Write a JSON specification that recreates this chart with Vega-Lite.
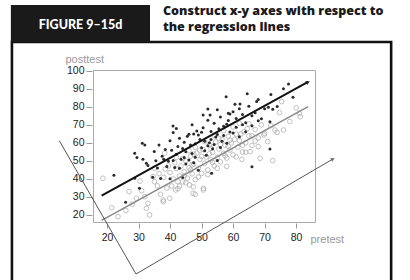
{
  "$schema": "https://vega.github.io/schema/vega-lite/v6.json",
  "width": 222,
  "height": 152,
  "autosize": "none",
  "padding": {"left": 93, "top": 70, "right": 95, "bottom": 58},
  "background": "white",
  "title": {
    "text": ["Construct x-y axes with respect to", "the regression lines"],
    "anchor": "start",
    "frame": "group",
    "dx": 70,
    "dy": 33,
    "font": "Open Sans",
    "fontSize": 12.5,
    "fontWeight": 800,
    "color": "#1a1a1a",
    "lineHeight": 16
  },
  "config": {
    "view": {"stroke": "#aaaaaa", "strokeWidth": 1},
    "axis": {
      "grid": false,
      "domain": false,
      "labelOverlap": false,
      "tickColor": "#999999",
      "labelFont": "Liberation Sans",
      "labelFontSize": 10.5,
      "labelColor": "#222222",
      "titleFont": "Liberation Sans",
      "titleFontSize": 11,
      "titleFontWeight": "normal",
      "titleColor": "#999999"
    }
  },
  "datasets": {
    "points": [
      {"group": "dark", "pretest": 22.2, "posttest": 42.1},
      {"group": "dark", "pretest": 25.9, "posttest": 27.1},
      {"group": "dark", "pretest": 28.8, "posttest": 40.4},
      {"group": "dark", "pretest": 28.8, "posttest": 54.3},
      {"group": "dark", "pretest": 29.5, "posttest": 52.0},
      {"group": "dark", "pretest": 30.3, "posttest": 34.8},
      {"group": "dark", "pretest": 31.2, "posttest": 59.8},
      {"group": "dark", "pretest": 32.0, "posttest": 58.9},
      {"group": "dark", "pretest": 31.4, "posttest": 50.9},
      {"group": "dark", "pretest": 32.5, "posttest": 48.7},
      {"group": "dark", "pretest": 40.95, "posttest": 69.4},
      {"group": "dark", "pretest": 52.7, "posttest": 75.6},
      {"group": "dark", "pretest": 52.0, "posttest": 78.9},
      {"group": "dark", "pretest": 57.8, "posttest": 85.7},
      {"group": "dark", "pretest": 60.6, "posttest": 81.5},
      {"group": "dark", "pretest": 62.2, "posttest": 81.7},
      {"group": "dark", "pretest": 58.5, "posttest": 76.5},
      {"group": "dark", "pretest": 71.2, "posttest": 79.8},
      {"group": "dark", "pretest": 72.6, "posttest": 78.7},
      {"group": "dark", "pretest": 71.7, "posttest": 71.8},
      {"group": "dark", "pretest": 77.6, "posttest": 92.8},
      {"group": "dark", "pretest": 53.2, "posttest": 43.2},
      {"group": "dark", "pretest": 66.0, "posttest": 46.8},
      {"group": "dark", "pretest": 71.7, "posttest": 56.7},
      {"group": "dark", "pretest": 33, "posttest": 47.5},
      {"group": "dark", "pretest": 34.5, "posttest": 41.0},
      {"group": "dark", "pretest": 35, "posttest": 55.3},
      {"group": "dark", "pretest": 36, "posttest": 46.1},
      {"group": "dark", "pretest": 36.5, "posttest": 58.9},
      {"group": "dark", "pretest": 37, "posttest": 40.2},
      {"group": "dark", "pretest": 38, "posttest": 50.9},
      {"group": "dark", "pretest": 38.5, "posttest": 56.4},
      {"group": "dark", "pretest": 39, "posttest": 47.0},
      {"group": "dark", "pretest": 40, "posttest": 40.1},
      {"group": "dark", "pretest": 40.5, "posttest": 55.9},
      {"group": "dark", "pretest": 41, "posttest": 65.8},
      {"group": "dark", "pretest": 41.5, "posttest": 46.4},
      {"group": "dark", "pretest": 42, "posttest": 53.8},
      {"group": "dark", "pretest": 43, "posttest": 62.7},
      {"group": "dark", "pretest": 43.5, "posttest": 51.0},
      {"group": "dark", "pretest": 44, "posttest": 40.8},
      {"group": "dark", "pretest": 44.5, "posttest": 60.4},
      {"group": "dark", "pretest": 45, "posttest": 55.1},
      {"group": "dark", "pretest": 45.5, "posttest": 63.8},
      {"group": "dark", "pretest": 46, "posttest": 50.6},
      {"group": "dark", "pretest": 46.5, "posttest": 58.9},
      {"group": "dark", "pretest": 47, "posttest": 70.1},
      {"group": "dark", "pretest": 47.5, "posttest": 49.0},
      {"group": "dark", "pretest": 48, "posttest": 59.6},
      {"group": "dark", "pretest": 48.5, "posttest": 66.7},
      {"group": "dark", "pretest": 49, "posttest": 44.9},
      {"group": "dark", "pretest": 49.5, "posttest": 62.0},
      {"group": "dark", "pretest": 50, "posttest": 57.4},
      {"group": "dark", "pretest": 50.5, "posttest": 68.5},
      {"group": "dark", "pretest": 51, "posttest": 61.0},
      {"group": "dark", "pretest": 51.5, "posttest": 53.2},
      {"group": "dark", "pretest": 52, "posttest": 72.6},
      {"group": "dark", "pretest": 52.5, "posttest": 60.1},
      {"group": "dark", "pretest": 53, "posttest": 66.4},
      {"group": "dark", "pretest": 53.5, "posttest": 56.8},
      {"group": "dark", "pretest": 54, "posttest": 70.9},
      {"group": "dark", "pretest": 54.5, "posttest": 63.3},
      {"group": "dark", "pretest": 55, "posttest": 50.2},
      {"group": "dark", "pretest": 55.5, "posttest": 67.9},
      {"group": "dark", "pretest": 56, "posttest": 74.5},
      {"group": "dark", "pretest": 56.5, "posttest": 61.0},
      {"group": "dark", "pretest": 57, "posttest": 69.3},
      {"group": "dark", "pretest": 58, "posttest": 59.8},
      {"group": "dark", "pretest": 58.5, "posttest": 72.5},
      {"group": "dark", "pretest": 59, "posttest": 66.1},
      {"group": "dark", "pretest": 60, "posttest": 77.3},
      {"group": "dark", "pretest": 61, "posttest": 68.7},
      {"group": "dark", "pretest": 62, "posttest": 63.4},
      {"group": "dark", "pretest": 63, "posttest": 75.8},
      {"group": "dark", "pretest": 64, "posttest": 71.2},
      {"group": "dark", "pretest": 65, "posttest": 80.4},
      {"group": "dark", "pretest": 66, "posttest": 69.6},
      {"group": "dark", "pretest": 67, "posttest": 76.8},
      {"group": "dark", "pretest": 68, "posttest": 84.1},
      {"group": "dark", "pretest": 69, "posttest": 73.5},
      {"group": "dark", "pretest": 70, "posttest": 79.0},
      {"group": "dark", "pretest": 72, "posttest": 86.9},
      {"group": "dark", "pretest": 74, "posttest": 80.3},
      {"group": "dark", "pretest": 76, "posttest": 90.2},
      {"group": "dark", "pretest": 79, "posttest": 85.4},
      {"group": "dark", "pretest": 37.5, "posttest": 52.6},
      {"group": "dark", "pretest": 39.5, "posttest": 49.8},
      {"group": "dark", "pretest": 40, "posttest": 61.2},
      {"group": "dark", "pretest": 41, "posttest": 50.3},
      {"group": "dark", "pretest": 42.5, "posttest": 58.1},
      {"group": "dark", "pretest": 43, "posttest": 45.9},
      {"group": "dark", "pretest": 44, "posttest": 57.0},
      {"group": "dark", "pretest": 45, "posttest": 48.3},
      {"group": "dark", "pretest": 46, "posttest": 64.9},
      {"group": "dark", "pretest": 47, "posttest": 54.2},
      {"group": "dark", "pretest": 48, "posttest": 52.1},
      {"group": "dark", "pretest": 49, "posttest": 64.4},
      {"group": "dark", "pretest": 50, "posttest": 66.0},
      {"group": "dark", "pretest": 51, "posttest": 55.7},
      {"group": "dark", "pretest": 52, "posttest": 58.5},
      {"group": "dark", "pretest": 53, "posttest": 62.0},
      {"group": "dark", "pretest": 54, "posttest": 59.1},
      {"group": "dark", "pretest": 55, "posttest": 64.7},
      {"group": "dark", "pretest": 56, "posttest": 57.5},
      {"group": "dark", "pretest": 57, "posttest": 64.2},
      {"group": "dark", "pretest": 58, "posttest": 70.4},
      {"group": "dark", "pretest": 59, "posttest": 76.1},
      {"group": "dark", "pretest": 60, "posttest": 65.5},
      {"group": "dark", "pretest": 61, "posttest": 73.6},
      {"group": "dark", "pretest": 62, "posttest": 79.0},
      {"group": "dark", "pretest": 63, "posttest": 70.2},
      {"group": "dark", "pretest": 64, "posttest": 66.3},
      {"group": "dark", "pretest": 66, "posttest": 75.1},
      {"group": "dark", "pretest": 68, "posttest": 72.4},
      {"group": "dark", "pretest": 35.5, "posttest": 50.1},
      {"group": "dark", "pretest": 42, "posttest": 68.0},
      {"group": "dark", "pretest": 50.5, "posttest": 75.5},
      {"group": "dark", "pretest": 55, "posttest": 78.5},
      {"group": "dark", "pretest": 47.5, "posttest": 65.0},
      {"group": "dark", "pretest": 44.5, "posttest": 51.9},
      {"group": "dark", "pretest": 64.5, "posttest": 87.3},
      {"group": "dark", "pretest": 67.5, "posttest": 83.0},
      {"group": "gray", "pretest": 18.7, "posttest": 40.4},
      {"group": "gray", "pretest": 23.5, "posttest": 19.1},
      {"group": "gray", "pretest": 29.3, "posttest": 29.3},
      {"group": "gray", "pretest": 32.0, "posttest": 30.2},
      {"group": "gray", "pretest": 33.0, "posttest": 26.5},
      {"group": "gray", "pretest": 32.5, "posttest": 23.7},
      {"group": "gray", "pretest": 33.5, "posttest": 20.0},
      {"group": "gray", "pretest": 37.8, "posttest": 28.3},
      {"group": "gray", "pretest": 39.9, "posttest": 29.3},
      {"group": "gray", "pretest": 47.3, "posttest": 32.0},
      {"group": "gray", "pretest": 48.0, "posttest": 31.5},
      {"group": "gray", "pretest": 41.8, "posttest": 33.9},
      {"group": "gray", "pretest": 42.5, "posttest": 38.5},
      {"group": "gray", "pretest": 46.2, "posttest": 36.7},
      {"group": "gray", "pretest": 38.3, "posttest": 54.3},
      {"group": "gray", "pretest": 35.1, "posttest": 38.5},
      {"group": "gray", "pretest": 34.6, "posttest": 41.3},
      {"group": "gray", "pretest": 75.4, "posttest": 83.0},
      {"group": "gray", "pretest": 74.7, "posttest": 76.9},
      {"group": "gray", "pretest": 81.3, "posttest": 74.6},
      {"group": "gray", "pretest": 81.0, "posttest": 76.5},
      {"group": "gray", "pretest": 76.0, "posttest": 67.2},
      {"group": "gray", "pretest": 73.3, "posttest": 67.2},
      {"group": "gray", "pretest": 69.8, "posttest": 64.4},
      {"group": "gray", "pretest": 68.0, "posttest": 58.0},
      {"group": "gray", "pretest": 68.6, "posttest": 51.5},
      {"group": "gray", "pretest": 72.6, "posttest": 50.2},
      {"group": "gray", "pretest": 62.8, "posttest": 50.9},
      {"group": "gray", "pretest": 65.4, "posttest": 55.2},
      {"group": "gray", "pretest": 50.6, "posttest": 34.8},
      {"group": "gray", "pretest": 47.4, "posttest": 35.7},
      {"group": "gray", "pretest": 50.6, "posttest": 33.9},
      {"group": "gray", "pretest": 37.9, "posttest": 27.4},
      {"group": "gray", "pretest": 36, "posttest": 36.2},
      {"group": "gray", "pretest": 37, "posttest": 31.5},
      {"group": "gray", "pretest": 38, "posttest": 40.9},
      {"group": "gray", "pretest": 39, "posttest": 35.0},
      {"group": "gray", "pretest": 40, "posttest": 43.6},
      {"group": "gray", "pretest": 40.5, "posttest": 36.1},
      {"group": "gray", "pretest": 41, "posttest": 40.0},
      {"group": "gray", "pretest": 42, "posttest": 45.8},
      {"group": "gray", "pretest": 42.5, "posttest": 34.6},
      {"group": "gray", "pretest": 43, "posttest": 41.7},
      {"group": "gray", "pretest": 43.5, "posttest": 47.3},
      {"group": "gray", "pretest": 44, "posttest": 38.4},
      {"group": "gray", "pretest": 44.5, "posttest": 44.0},
      {"group": "gray", "pretest": 45, "posttest": 50.1},
      {"group": "gray", "pretest": 45.5, "posttest": 40.5},
      {"group": "gray", "pretest": 46, "posttest": 46.2},
      {"group": "gray", "pretest": 46.5, "posttest": 52.7},
      {"group": "gray", "pretest": 47, "posttest": 42.9},
      {"group": "gray", "pretest": 47.5, "posttest": 48.3},
      {"group": "gray", "pretest": 48, "posttest": 39.7},
      {"group": "gray", "pretest": 48.5, "posttest": 54.4},
      {"group": "gray", "pretest": 49, "posttest": 46.0},
      {"group": "gray", "pretest": 49.5, "posttest": 50.9},
      {"group": "gray", "pretest": 50, "posttest": 43.1},
      {"group": "gray", "pretest": 50.5, "posttest": 56.3},
      {"group": "gray", "pretest": 51, "posttest": 48.7},
      {"group": "gray", "pretest": 51.5, "posttest": 52.2},
      {"group": "gray", "pretest": 52, "posttest": 45.0},
      {"group": "gray", "pretest": 52.5, "posttest": 58.9},
      {"group": "gray", "pretest": 53, "posttest": 50.6},
      {"group": "gray", "pretest": 53.5, "posttest": 54.8},
      {"group": "gray", "pretest": 54, "posttest": 47.3},
      {"group": "gray", "pretest": 54.5, "posttest": 60.5},
      {"group": "gray", "pretest": 55, "posttest": 52.0},
      {"group": "gray", "pretest": 55.5, "posttest": 56.7},
      {"group": "gray", "pretest": 56, "posttest": 49.5},
      {"group": "gray", "pretest": 56.5, "posttest": 62.0},
      {"group": "gray", "pretest": 57, "posttest": 54.2},
      {"group": "gray", "pretest": 57.5, "posttest": 58.8},
      {"group": "gray", "pretest": 58, "posttest": 51.6},
      {"group": "gray", "pretest": 58.5, "posttest": 63.7},
      {"group": "gray", "pretest": 59, "posttest": 56.1},
      {"group": "gray", "pretest": 59.5, "posttest": 60.0},
      {"group": "gray", "pretest": 60, "posttest": 53.4},
      {"group": "gray", "pretest": 61, "posttest": 64.9},
      {"group": "gray", "pretest": 61.5, "posttest": 57.7},
      {"group": "gray", "pretest": 62, "posttest": 61.3},
      {"group": "gray", "pretest": 63, "posttest": 55.0},
      {"group": "gray", "pretest": 63.5, "posttest": 66.2},
      {"group": "gray", "pretest": 64, "posttest": 60.2},
      {"group": "gray", "pretest": 65, "posttest": 63.9},
      {"group": "gray", "pretest": 66, "posttest": 58.6},
      {"group": "gray", "pretest": 67, "posttest": 67.5},
      {"group": "gray", "pretest": 68, "posttest": 62.8},
      {"group": "gray", "pretest": 69, "posttest": 70.1},
      {"group": "gray", "pretest": 70, "posttest": 65.3},
      {"group": "gray", "pretest": 71, "posttest": 60.8},
      {"group": "gray", "pretest": 72, "posttest": 69.7},
      {"group": "gray", "pretest": 74, "posttest": 65.9},
      {"group": "gray", "pretest": 78, "posttest": 72.0},
      {"group": "gray", "pretest": 80, "posttest": 79.5},
      {"group": "gray", "pretest": 38.5, "posttest": 45.5},
      {"group": "gray", "pretest": 41.5, "posttest": 49.0},
      {"group": "gray", "pretest": 43, "posttest": 36.0},
      {"group": "gray", "pretest": 44, "posttest": 51.3},
      {"group": "gray", "pretest": 45, "posttest": 37.9},
      {"group": "gray", "pretest": 46, "posttest": 55.8},
      {"group": "gray", "pretest": 47, "posttest": 47.8},
      {"group": "gray", "pretest": 48, "posttest": 57.6},
      {"group": "gray", "pretest": 49, "posttest": 41.1},
      {"group": "gray", "pretest": 50, "posttest": 52.5},
      {"group": "gray", "pretest": 51, "posttest": 60.7},
      {"group": "gray", "pretest": 52, "posttest": 42.5},
      {"group": "gray", "pretest": 53, "posttest": 57.0},
      {"group": "gray", "pretest": 54, "posttest": 64.2},
      {"group": "gray", "pretest": 55, "posttest": 45.9},
      {"group": "gray", "pretest": 56, "posttest": 59.2},
      {"group": "gray", "pretest": 57, "posttest": 66.8},
      {"group": "gray", "pretest": 58, "posttest": 47.0},
      {"group": "gray", "pretest": 59, "posttest": 61.5},
      {"group": "gray", "pretest": 60, "posttest": 68.9},
      {"group": "gray", "pretest": 61, "posttest": 52.3},
      {"group": "gray", "pretest": 62, "posttest": 71.0},
      {"group": "gray", "pretest": 63, "posttest": 58.8},
      {"group": "gray", "pretest": 64, "posttest": 54.9},
      {"group": "gray", "pretest": 65, "posttest": 70.6},
      {"group": "gray", "pretest": 66, "posttest": 64.0},
      {"group": "gray", "pretest": 67, "posttest": 61.1},
      {"group": "gray", "pretest": 36.5, "posttest": 43.0},
      {"group": "gray", "pretest": 39.5, "posttest": 47.2},
      {"group": "gray", "pretest": 42, "posttest": 52.0},
      {"group": "gray", "pretest": 55.5, "posttest": 62.5},
      {"group": "gray", "pretest": 57.5, "posttest": 52.9},
      {"group": "gray", "pretest": 60.5, "posttest": 62.0},
      {"group": "gray", "pretest": 49.5, "posttest": 56.0},
      {"group": "gray", "pretest": 53.5, "posttest": 49.2},
      {"group": "gray", "pretest": 46.5, "posttest": 45.0},
      {"group": "gray", "pretest": 44.5, "posttest": 41.6},
      {"group": "gray", "pretest": 62.5, "posttest": 65.0},
      {"group": "gray", "pretest": 58.5, "posttest": 58.1},
      {"group": "gray", "pretest": 52.5, "posttest": 54.0},
      {"group": "gray", "pretest": 47.5, "posttest": 53.9},
      {"group": "gray", "pretest": 64.5, "posttest": 67.9},
      {"group": "gray", "pretest": 27, "posttest": 33.0},
      {"group": "gray", "pretest": 30.5, "posttest": 38.8},
      {"group": "gray", "pretest": 35, "posttest": 46.0},
      {"group": "gray", "pretest": 26, "posttest": 22.5},
      {"group": "gray", "pretest": 28, "posttest": 26.0},
      {"group": "gray", "pretest": 21.5, "posttest": 24.0},
      {"group": "gray", "pretest": 31, "posttest": 33.5}
    ],
    "lines": [
      {"line": "upper", "order": 1, "pretest": 18.3, "posttest": 30.7},
      {"line": "upper", "order": 2, "pretest": 83.8, "posttest": 93.9},
      {"line": "lower", "order": 1, "pretest": 18.3, "posttest": 17.0},
      {"line": "lower", "order": 2, "pretest": 83.8, "posttest": 80.2},
      {"line": "rotated", "order": 1, "pretest": 4.86, "posttest": 61.3},
      {"line": "rotated", "order": 2, "pretest": 29.2, "posttest": -12.8},
      {"line": "rotated", "order": 3, "pretest": 91.7, "posttest": 51.1}
    ],
    "arrows": [
      {"line": "upper", "pretest": 83.8, "posttest": 93.9, "angle": -29},
      {"line": "rotated", "pretest": 91.7, "posttest": 51.1, "angle": -30}
    ],
    "frame": [
      {"part": "box", "pretest": -10.16, "pretest2": 110.16, "posttest": 116.1, "posttest2": -18}
    ],
    "headerBox": [
      {"part": "header", "pretest": -10.5, "pretest2": 33.65, "posttest": 136.7, "posttest2": 116.1}
    ],
    "headerLabel": [
      {"label": "FIGURE 9–15d", "pretest": 11.6, "posttest": 125.8}
    ]
  },
  "encoding": {
    "x": {"field": "pretest", "type": "quantitative", "scale": {"domain": [15.56, 86], "zero": false, "nice": false},
      "axis": {"values": [20, 30, 40, 50, 60, 70, 80], "labelOverlap": false, "offset": 1, "tickSize": 5, "labelPadding": 4, "title": "pretest", "titleX": 217, "titleY": 19, "titleAlign": "left", "titleBaseline": "alphabetic"}},
    "y": {"field": "posttest", "type": "quantitative", "scale": {"domain": [16.1, 100.55], "zero": false, "nice": false},
      "axis": {"values": [20, 30, 40, 50, 60, 70, 80, 90, 100], "labelOverlap": false, "offset": 1, "tickSize": 6, "labelPadding": 2, "title": "posttest", "titleAngle": 0, "titleX": -27, "titleY": -8, "titleAlign": "left", "titleBaseline": "alphabetic"}}
  },
  "layer": [
    {
      "data": {"name": "frame"},
      "mark": {"type": "rect", "fill": null, "stroke": "#111111", "strokeWidth": 2.6},
      "encoding": {
        "x2": {"field": "pretest2"},
        "y2": {"field": "posttest2"}
      }
    },
    {
      "data": {"name": "headerBox"},
      "mark": {"type": "rect", "fill": "#1a1a1a"},
      "encoding": {
        "x2": {"field": "pretest2"},
        "y2": {"field": "posttest2"}
      }
    },
    {
      "data": {"name": "headerLabel"},
      "mark": {"type": "text", "color": "white", "font": "Lato", "fontWeight": 900, "fontSize": 12.5, "align": "center", "baseline": "middle"},
      "encoding": {
        "text": {"field": "label"}
      }
    },
    {
      "data": {"name": "points"},
      "transform": [{"filter": "datum.group === 'gray'"}],
      "mark": {"type": "point", "shape": "circle", "filled": false, "stroke": "#a8a8a8", "strokeWidth": 1, "size": 22}
    },
    {
      "data": {"name": "points"},
      "transform": [{"filter": "datum.group === 'dark'"}],
      "mark": {"type": "point", "shape": "circle", "filled": true, "color": "#2a2a2a", "size": 9, "opacity": 1}
    },
    {
      "data": {"name": "lines"},
      "transform": [{"filter": "datum.line === 'lower'"}],
      "mark": {"type": "line", "color": "#8a8a8a", "strokeWidth": 1.6},
      "encoding": {
        "order": {"field": "order"}
      }
    },
    {
      "data": {"name": "lines"},
      "transform": [{"filter": "datum.line === 'upper'"}],
      "mark": {"type": "line", "color": "#111111", "strokeWidth": 2},
      "encoding": {
        "order": {"field": "order"}
      }
    },
    {
      "data": {"name": "lines"},
      "transform": [{"filter": "datum.line === 'rotated'"}],
      "mark": {"type": "line", "color": "#555555", "strokeWidth": 1},
      "encoding": {
        "order": {"field": "order"}
      }
    },
    {
      "data": {"name": "arrows"},
      "mark": {"type": "point", "shape": "triangle-right", "filled": true, "size": 22},
      "encoding": {
        "angle": {"field": "angle", "type": "quantitative", "scale": null},
        "color": {"field": "line", "type": "nominal", "scale": {"domain": ["upper", "rotated"], "range": ["#111111", "#555555"]}, "legend": null}
      }
    }
  ]
}
